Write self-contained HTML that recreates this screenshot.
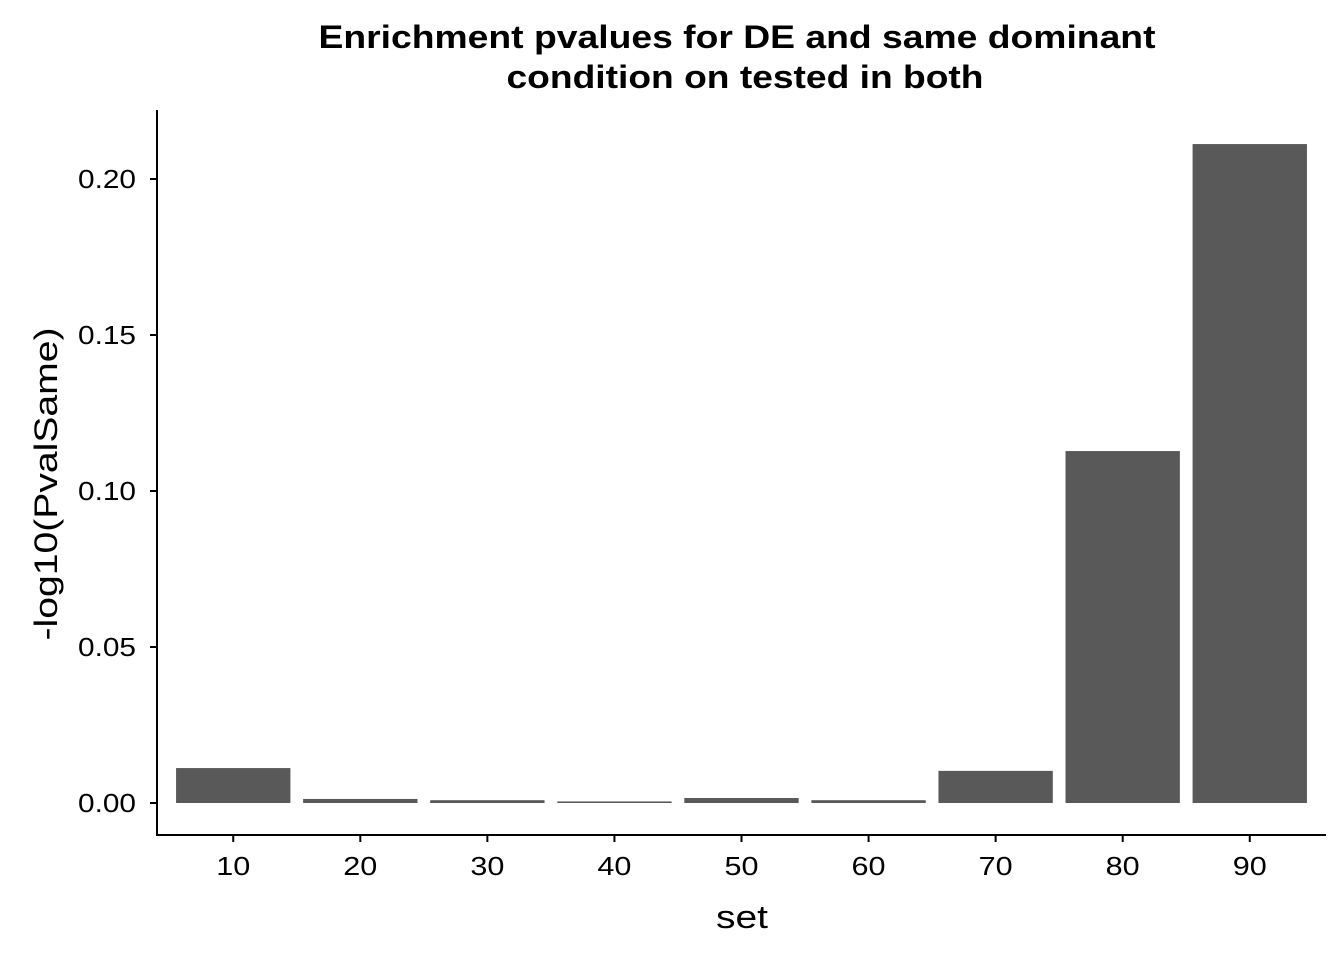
<!DOCTYPE html>
<html><head><meta charset="utf-8"><style>
body{margin:0;background:#fff}
text{font-family:"Liberation Sans",Arial,sans-serif}
</style></head><body>
<svg id="chart" width="1344" height="960" xmlns="http://www.w3.org/2000/svg">
<text x="737" y="48" text-anchor="middle" font-size="32" font-weight="bold" textLength="837" lengthAdjust="spacingAndGlyphs">Enrichment pvalues for DE and same dominant</text>
<text x="745" y="88" text-anchor="middle" font-size="32" font-weight="bold" textLength="477" lengthAdjust="spacingAndGlyphs">condition on tested in both</text>
<g id="bars"></g>
<g id="axes"></g>
<text x="742" y="928" text-anchor="middle" font-size="32" textLength="52" lengthAdjust="spacingAndGlyphs">set</text>
<text transform="translate(57,484) rotate(-90)" text-anchor="middle" font-size="32" textLength="313" lengthAdjust="spacingAndGlyphs">-log10(PvalSame)</text>
</svg>
<script>
const categories=["10","20","30","40","50","60","70","80","90"];
const values=[0.0112,0.0013,0.0009,0.0005,0.0016,0.0009,0.0103,0.1128,0.2112];
const yTicks=[0,0.05,0.10,0.15,0.20];
const yTickLabels=["0.00","0.05","0.10","0.15","0.20"];
const NS="http://www.w3.org/2000/svg";
const x0=157,x1=1326,yTop=110,yBot=835;
const unit=(x1-x0)/(categories.length-1+1.2);
function xc(i){return x0+(0.6+i)*unit;}
function y(v){return 803-v*3120;}
function mk(t,a,p){const e=document.createElementNS(NS,t);for(const k in a)e.setAttribute(k,a[k]);p.appendChild(e);return e;}
function tl(s){let w=0;for(const ch of s)w+=(ch==='.'?7:17);return w;}
const bars=document.getElementById('bars'),axes=document.getElementById('axes');
values.forEach((v,i)=>{
 const r=mk('rect',{x:xc(i)-0.45*unit,y:y(v),width:0.9*unit,height:y(0)-y(v),fill:'#595959'},bars);
 
 
});
const xa=mk('line',{x1:x0,y1:yBot,x2:x1,y2:yBot,stroke:'#000','stroke-width':2},axes);


const ya=mk('line',{x1:x0,y1:yTop,x2:x0,y2:yBot+1,stroke:'#000','stroke-width':2},axes);


categories.forEach((c,i)=>{
 mk('line',{x1:xc(i),y1:yBot,x2:xc(i),y2:yBot+7,stroke:'#000','stroke-width':2},axes);
 const t=mk('text',{x:xc(i),y:875,'text-anchor':'middle','font-size':26,fill:'#000',textLength:tl(c),lengthAdjust:'spacingAndGlyphs'},axes);
 t.textContent=c;
 
 
});
yTicks.forEach((v,i)=>{
 mk('line',{x1:x0-7,y1:y(v),x2:x0,y2:y(v),stroke:'#000','stroke-width':2},axes);
 const t=mk('text',{x:x0-21,y:y(v)+9,'text-anchor':'end','font-size':26,fill:'#000',textLength:tl(yTickLabels[i]),lengthAdjust:'spacingAndGlyphs'},axes);
 t.textContent=yTickLabels[i];
 
 
});
</script>
</body></html>
